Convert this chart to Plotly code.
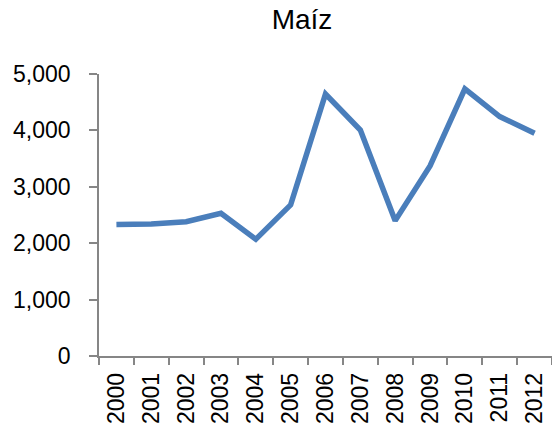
import plotly.graph_objects as go

years = ["2000", "2001", "2002", "2003", "2004", "2005", "2006",
         "2007", "2008", "2009", "2010", "2011", "2012"]
values = [2330, 2340, 2380, 2530, 2070, 2680, 4645,
          4005, 2400, 3370, 4735, 4245, 3950]
y_ticks = [0, 1000, 2000, 3000, 4000, 5000]
y_tick_labels = ["0", "1,000", "2,000", "3,000", "4,000", "5,000"]

axis_color = "#868686"
font_family = "Liberation Sans, Arial, sans-serif"

fig = go.Figure(go.Scatter(
    x=years, y=values, mode="lines",
    line=dict(color="#4a7ebb", width=5.5),
    hoverinfo="x+y",
))

fig.update_layout(
    width=552, height=432,
    margin=dict(l=99, r=0, t=74, b=76, autoexpand=False),
    paper_bgcolor="white", plot_bgcolor="white",
    showlegend=False,
    font=dict(family=font_family, color="black", size=23),
    title=dict(text="Maíz", x=302 / 552, xanchor="center", xref="container",
               y=1 - 19 / 432, yanchor="middle", yref="container",
               font=dict(size=28, color="black", family=font_family)),
)
fig.update_xaxes(
    type="category", range=[-0.5, 12.5], automargin=False,
    showline=True, linecolor=axis_color, linewidth=1.5,
    ticks="outside", ticklen=7, tickcolor=axis_color, tickwidth=1.5,
    tickson="boundaries", tickangle=-90, showgrid=False, zeroline=False,
    tickfont=dict(size=23), ticklabelstandoff=6,
)
fig.update_yaxes(
    range=[0, 5000], tickvals=y_ticks, ticktext=y_tick_labels, automargin=False,
    showline=True, linecolor=axis_color, linewidth=1.5,
    ticks="outside", ticklen=8, tickcolor=axis_color, tickwidth=1.5,
    showgrid=False, zeroline=False, tickfont=dict(size=23), ticklabelstandoff=14,
)

fig.write_html("out.html", config={"displayModeBar": False},
               post_script="document.body.style.margin='0';document.body.style.overflow='hidden';")
